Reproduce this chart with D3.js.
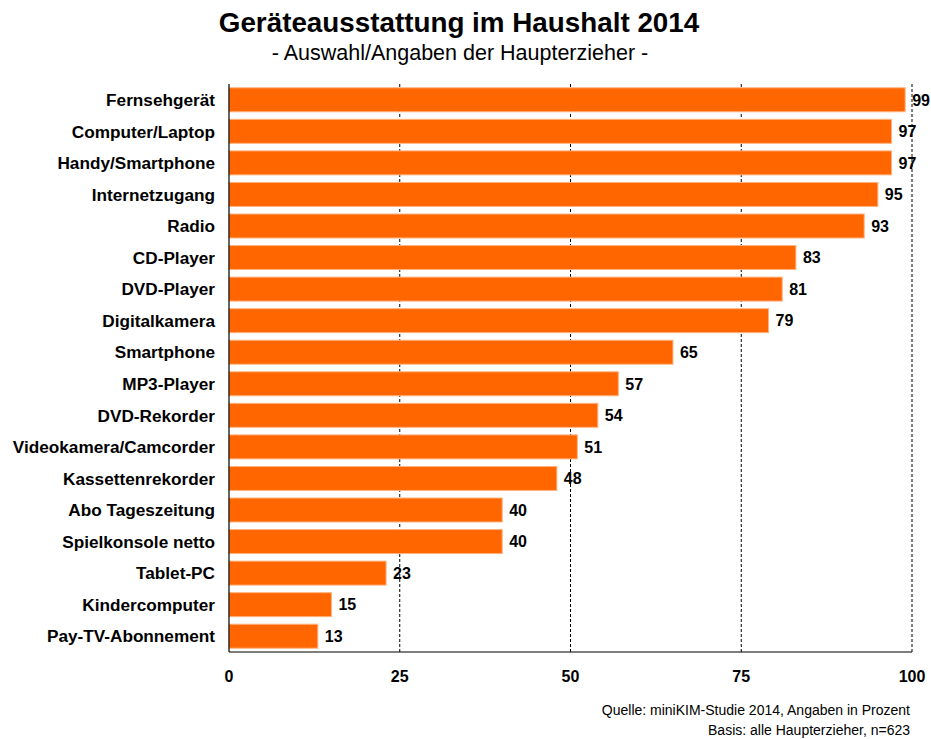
<!DOCTYPE html>
<html>
<head>
<meta charset="utf-8">
<script src="https://cdn.jsdelivr.net/npm/d3@7"></script>
<style>
  body { margin: 0; background: #fff; }
  svg text { font-family: "Liberation Sans", Arial, sans-serif; fill: #000; }
</style>
</head>
<body>
<div id="chart"></div>
<script>
var categories = ["Fernsehgerät","Computer/Laptop","Handy/Smartphone","Internetzugang","Radio","CD-Player","DVD-Player","Digitalkamera","Smartphone","MP3-Player","DVD-Rekorder","Videokamera/Camcorder","Kassettenrekorder","Abo Tageszeitung","Spielkonsole netto","Tablet-PC","Kindercomputer","Pay-TV-Abonnement"];
var values = [99,97,97,95,93,83,81,79,65,57,54,51,48,40,40,23,15,13];
var tickValues = [0,25,50,75,100];

var width = 931, height = 739;
var margin = {top: 84, right: 19, bottom: 87, left: 229};

var svg = d3.select("#chart").append("svg")
	.attr("width", width)
	.attr("height", height);

var x = d3.scaleLinear().domain([0,100]).range([margin.left, width - margin.right]);
var y = d3.scaleBand().domain(categories).range([margin.top, height - margin.bottom]).paddingInner(0.24).paddingOuter(0.12);

// title
svg.append("text")
	.attr("x", 459).attr("y", 32)
	.attr("text-anchor", "middle")
	.style("font-size", "27.8px").style("font-weight", "bold")
	.text("Geräteausstattung im Haushalt 2014");

svg.append("text")
	.attr("x", 460).attr("y", 60)
	.attr("text-anchor", "middle")
	.style("font-size", "21.5px")
	.text("- Auswahl/Angaben der Haupterzieher -");

// dashed grid
svg.append("g").selectAll("line")
	.data(tickValues.slice(1))
	.enter().append("line")
	.attr("x1", function(d) { return x(d); })
	.attr("x2", function(d) { return x(d); })
	.attr("y1", margin.top)
	.attr("y2", height - margin.bottom)
	.attr("stroke", "#000")
	.attr("stroke-width", 1)
	.attr("stroke-dasharray", "3,2");

// bars
svg.append("g").selectAll("rect")
	.data(values)
	.enter().append("rect")
	.attr("x", x(0))
	.attr("y", function(d, i) { return y(categories[i]); })
	.attr("width", function(d) { return x(d) - x(0); })
	.attr("height", y.bandwidth())
	.attr("fill", "#ff6600")
	.attr("stroke", "#ffb27f")
	.attr("stroke-width", 1);

// value labels
svg.append("g").selectAll("text")
	.data(values)
	.enter().append("text")
	.attr("x", function(d) { return x(d) + 7; })
	.attr("y", function(d, i) { return y(categories[i]) + y.bandwidth() / 2; })
	.attr("dy", "0.36em")
	.style("font-size", "16px").style("font-weight", "bold")
	.text(function(d) { return d; });

// category labels
svg.append("g").selectAll("text")
	.data(categories)
	.enter().append("text")
	.attr("x", margin.left - 14)
	.attr("y", function(d) { return y(d) + y.bandwidth() / 2; })
	.attr("dy", "0.36em")
	.attr("text-anchor", "end")
	.style("font-size", "17.2px").style("font-weight", "bold")
	.text(function(d) { return d; });

// axis lines
svg.append("line")
	.attr("x1", x(0)).attr("x2", x(0))
	.attr("y1", margin.top).attr("y2", height - margin.bottom)
	.attr("stroke", "#000").attr("stroke-width", 1.2);
svg.append("line")
	.attr("x1", x(0)).attr("x2", x(100))
	.attr("y1", height - margin.bottom).attr("y2", height - margin.bottom)
	.attr("stroke", "#000").attr("stroke-width", 1.2);

// tick labels
svg.append("g").selectAll("text")
	.data(tickValues)
	.enter().append("text")
	.attr("x", function(d) { return x(d); })
	.attr("y", 682)
	.attr("text-anchor", "middle")
	.style("font-size", "16px").style("font-weight", "bold")
	.text(function(d) { return d; });

// source
svg.append("text")
	.attr("x", 910).attr("y", 715)
	.attr("text-anchor", "end")
	.style("font-size", "14px")
	.text("Quelle: miniKIM-Studie 2014, Angaben in Prozent");
svg.append("text")
	.attr("x", 910).attr("y", 735)
	.attr("text-anchor", "end")
	.style("font-size", "14px")
	.text("Basis: alle Haupterzieher, n=623");
</script>
</body>
</html>
